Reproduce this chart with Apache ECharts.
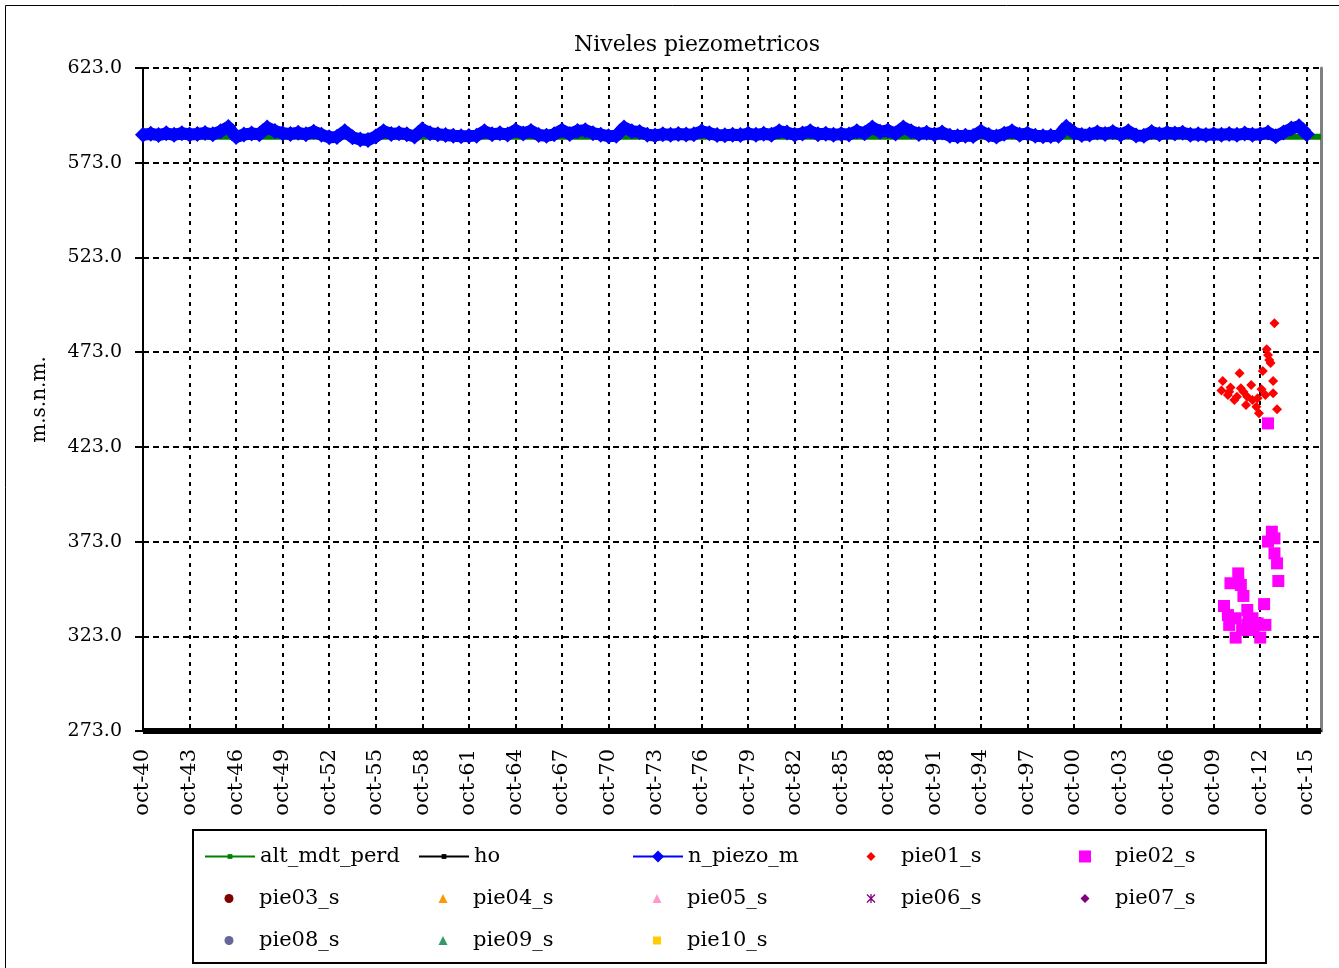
<!DOCTYPE html>
<html><head><meta charset="utf-8">
<script src="https://cdn.jsdelivr.net/npm/echarts@6/dist/echarts.min.js"></script>
<style>html,body{margin:0;padding:0;background:#fff}#c{width:1339px;height:968px}</style>
</head><body><div id="c"></div>
<script>
// ---- data ----
const yTickLabels = ['273.0','323.0','373.0','423.0','473.0','523.0','573.0','623.0'];
const xTickLabels = ['oct-40','oct-43','oct-46','oct-49','oct-52','oct-55','oct-58','oct-61','oct-64','oct-67',
  'oct-70','oct-73','oct-76','oct-79','oct-82','oct-85','oct-88','oct-91','oct-94','oct-97',
  'oct-00','oct-03','oct-06','oct-09','oct-12','oct-15'];

// n_piezo_m : one reading every 6 months starting oct-1940
const piezoStart = '1940-10';
const piezoStepMonths = 6;
const piezoValues = [
  587.8,588.3,587.6,588.5,587.7,588.6,587.9,588.2,588.7,588.0,
  589.6,591.8,586.6,587.9,588.4,588.0,591.6,589.8,588.6,588.2,
  588.8,588.0,589.4,587.8,586.4,586.6,589.6,586.4,585.2,585.0,
  586.8,589.6,588.2,588.6,588.0,586.8,590.6,588.6,588.0,587.6,
  587.2,587.0,587.1,587.3,589.6,588.0,588.5,587.9,590.2,588.4,
  589.8,587.6,587.2,588.0,590.2,588.2,589.8,590.2,588.6,587.8,
  587.0,587.2,591.6,589.6,589.2,587.8,587.4,588.0,587.8,588.2,
  587.9,588.0,589.6,588.6,587.6,587.5,587.8,587.6,588.4,587.7,
  588.3,587.8,589.6,588.9,587.8,588.4,589.6,588.0,588.3,587.8,
  588.1,587.9,589.6,588.6,591.6,589.4,590.0,588.4,591.6,589.6,
  588.2,588.8,587.9,588.9,587.2,587.0,587.3,587.1,589.6,587.6,
  586.8,588.3,589.6,587.8,588.4,587.2,587.0,587.1,587.3,592.0,
  588.8,587.6,587.9,589.0,588.2,589.2,587.8,589.6,587.4,587.2,
  589.2,588.0,588.8,588.4,588.8,587.8,588.0,587.6,588.0,587.8,
  588.2,587.7,588.4,587.8,588.0,588.9,587.0,589.0,591.0,592.2,
  588.0
];

const altDates = ['1940-10','2016-09'];
const altValues = [586.7, 586.7];

const hoDates = ['1940-10','2016-09'];
const hoValues = [273.0, 273.0];

const pie01Dates = ['2013-09','2013-03','2013-04','2013-05','2013-06','2012-12','2011-06','2013-08','2010-05','2013-08',
  '2013-11','2010-04','2010-11','2011-07','2012-03','2012-11','2010-09','2011-02','2011-11','2012-07',
  '2012-09','2011-04','2011-12','2012-04','2013-02','2011-09','2012-08','2010-10'];
const pie01Values = [488.2,474.5,471.5,468.9,467.3,463.0,461.8,457.8,457.8,451.3,
  442.8,452.7,454.4,453.9,455.6,453.4,450.4,447.7,445.1,444.2,
  440.7,449.5,449.5,447.7,450.4,452.1,448.6,452.1];

const pie02Dates = ['2013-04','2013-07','2013-04','2013-09','2013-09','2013-11','2013-12','2011-05','2010-11','2011-07',
  '2011-09','2010-06','2013-01','2010-09','2011-03','2011-12','2012-04','2010-10','2011-12','2013-02',
  '2012-08','2011-03','2012-10','2012-05','2011-08','2012-01'];
const pie02Values = [435.4,378.2,373.0,374.7,366.8,361.5,352.2,356.2,351.0,350.1,
  344.3,339.0,340.0,334.2,332.5,336.9,332.5,329.0,329.0,329.0,
  329.8,322.3,322.3,326.3,326.3,331.0];

// ---- helpers ----
const Y_BASE = parseFloat(yTickLabels[0]);
function toM(s){ const p = s.split('-').map(Number); return (p[0]-1940)*12 + (p[1]-10); }
function pairs(dates, vals){ return dates.map((d,i)=>[toM(d), vals[i] - Y_BASE]); }
const piezoData = piezoValues.map((v,i)=>[toM(piezoStart) + i*piezoStepMonths, v - Y_BASE]);

const FONT = 'DejaVu Serif';
const xPath = 'path://M0,1L1,0L10,9L9,10Z M9,0L10,1L1,10L0,9Z M4.3,0L5.7,0L5.7,10L4.3,10Z';

const series = [
  {name:'alt_mdt_perd', type:'line', data:pairs(altDates, altValues), color:'#008000',
   symbol:'rect', showSymbol:false, lineStyle:{width:6, color:'#008000'}},
  {name:'ho', type:'line', data:pairs(hoDates, hoValues), color:'#000000',
   symbol:'rect', showSymbol:false, lineStyle:{width:6, color:'#000000'}},
  {name:'n_piezo_m', type:'line', data:piezoData, color:'#0000FF',
   symbol:'diamond', symbolSize:16, showSymbol:true, lineStyle:{width:12, color:'#0000FF'}, itemStyle:{color:'#0000FF'}},
  {name:'pie01_s', type:'scatter', data:pairs(pie01Dates, pie01Values), symbol:'diamond', symbolSize:10, itemStyle:{color:'#FF0000', opacity:1}},
  {name:'pie02_s', type:'scatter', data:pairs(pie02Dates, pie02Values), symbol:'rect', symbolSize:12, itemStyle:{color:'#FF00FF', opacity:1}},
  {name:'pie03_s', type:'scatter', data:[], symbol:'circle', symbolSize:8, itemStyle:{color:'#800000', opacity:1}},
  {name:'pie04_s', type:'scatter', data:[], symbol:'triangle', symbolSize:8, itemStyle:{color:'#FF9900', opacity:1}},
  {name:'pie05_s', type:'scatter', data:[], symbol:'triangle', symbolSize:8, itemStyle:{color:'#FF99CC', opacity:1}},
  {name:'pie06_s', type:'scatter', data:[], symbol:xPath, symbolSize:8, itemStyle:{color:'#800080', opacity:1}},
  {name:'pie07_s', type:'scatter', data:[], symbol:'diamond', symbolSize:8, itemStyle:{color:'#800080', opacity:1}},
  {name:'pie08_s', type:'scatter', data:[], symbol:'circle', symbolSize:8, itemStyle:{color:'#666699', opacity:1}},
  {name:'pie09_s', type:'scatter', data:[], symbol:'triangle', symbolSize:8, itemStyle:{color:'#339966', opacity:1}},
  {name:'pie10_s', type:'scatter', data:[], symbol:'rect', symbolSize:8, itemStyle:{color:'#FFCC00', opacity:1}}
];
series.forEach(s=>{ s.animation = false; });

// legend layout: [name, column, row, iconSize, isLine]
const legendLayout = [
  ['alt_mdt_perd',0,0,6,true],['ho',1,0,6,true],['n_piezo_m',2,0,15,true],['pie01_s',3,0,9,false],['pie02_s',4,0,12,false],
  ['pie03_s',0,1,9,false],['pie04_s',1,1,9,false],['pie05_s',2,1,9,false],['pie06_s',3,1,9,false],['pie07_s',4,1,9,false],
  ['pie08_s',0,2,9,false],['pie09_s',1,2,9,false],['pie10_s',2,2,8,false]
];
const legends = legendLayout.map(([name,col,row,h,isLine])=>{
  const textX = 259 + 214*col;
  const top = 857 + 42*row - 11;
  if (isLine) {
    return {show:true, data:[name], selectedMode:false, padding:0,
      left: textX - 55, top: top, itemWidth:50, itemHeight:h, itemGap:0,
      lineStyle:{width:2},
      textStyle:{fontFamily:FONT, fontSize:21, color:'#000'}};
  }
  const left = textX - 30 - h/2;
  return {show:true, data:[name], selectedMode:false, padding:0,
    left: left, top: top, itemWidth:h, itemHeight:h, itemGap:0,
    textStyle:{fontFamily:FONT, fontSize:21, color:'#000', padding:[0,0,0,25 - h/2]}};
});

const chart = echarts.init(document.getElementById('c'), null, {renderer:'canvas'});
chart.setOption({
  backgroundColor:'#ffffff',
  animation:false,
  title:{text:'Niveles piezometricos', left:692, top:29, textAlign:'center',
    textStyle:{fontFamily:FONT, fontSize:22, fontWeight:'normal', color:'#000'}},
  legend: legends,
  grid:{left:143, right:18, top:68, bottom:237, containLabel:false},
  xAxis:{
    type:'value', min:0, max:911, interval:36,
    axisLine:{show:true, onZero:false, lineStyle:{color:'#000', width:2}},
    axisTick:{show:true, inside:true, length:7, lineStyle:{color:'#000', width:2}},
    axisLabel:{rotate:90, margin:18, showMaxLabel:false, fontFamily:FONT, fontSize:21, color:'#000',
      formatter:v=>xTickLabels[Math.round(v/36)] || ''},
    splitLine:{show:true, lineStyle:{color:'#000', width:2, type:[4,5]}}
  },
  yAxis:[{
    type:'value', min:0, max:350, interval:50,
    name:'m.s.n.m.', nameLocation:'middle', nameGap:93, nameRotate:90,
    nameTextStyle:{fontFamily:FONT, fontSize:20, color:'#000'},
    axisLine:{show:true, onZero:false, lineStyle:{color:'#000', width:2}},
    axisTick:{show:true, inside:false, length:8, lineStyle:{color:'#000', width:2}},
    axisLabel:{margin:21, fontFamily:FONT, fontSize:19, color:'#000',
      formatter:v=>yTickLabels[Math.round(v/50)] || ''},
    splitLine:{show:true, lineStyle:{color:'#000', width:2, type:[6,4]}}
  },{
    type:'value', min:0, max:350, interval:50, position:'right',
    axisLine:{show:true, onZero:false, lineStyle:{color:'#808080', width:3}},
    axisTick:{show:false}, axisLabel:{show:false}, splitLine:{show:false}
  }],
  graphic:[
    {type:'rect', shape:{x:5.5, y:5.5, width:1400, height:1000}, style:{fill:null, stroke:'#000', lineWidth:1}, silent:true, z:-1},
    {type:'rect', shape:{x:193, y:830, width:1073, height:133}, style:{fill:null, stroke:'#000', lineWidth:2}, silent:true, z:-1}
  ],
  series: series
});
</script></body></html>
